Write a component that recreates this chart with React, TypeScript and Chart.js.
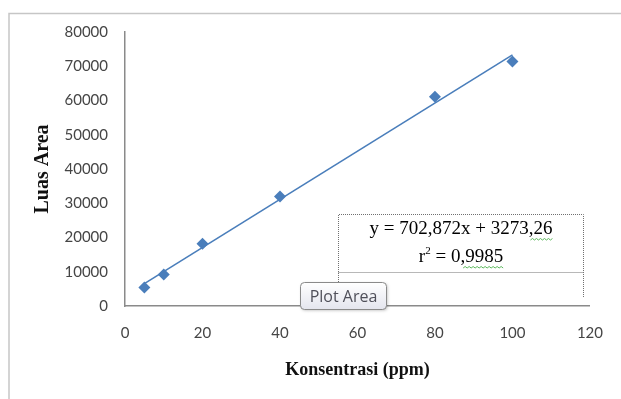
import React, { useEffect, useRef } from "react";
import { Chart, registerables } from "chart.js";

Chart.register(...registerables);

const concentrations = [5, 10, 20, 40, 80, 100];
const areas = [5400, 9200, 18200, 32000, 61100, 71400];
const xTicks = [0, 20, 40, 60, 80, 100, 120];
const yTicks = [0, 10000, 20000, 30000, 40000, 50000, 60000, 70000, 80000];
const equationText = "y = 702,872x + 3273,26";
const r2Label = "r";
const r2Value = " = 0,9985";
const xTitle = "Konsentrasi (ppm)";
const yTitle = "Luas Area";
const hoverLabel = "Plot Area";

function regression(xs: number[], ys: number[]) {
  const n = xs.length;
  const mx = xs.reduce((a, b) => a + b, 0) / n;
  const my = ys.reduce((a, b) => a + b, 0) / n;
  let sxy = 0, sxx = 0;
  for (let i = 0; i < n; i++) {
    sxy += (xs[i] - mx) * (ys[i] - my);
    sxx += (xs[i] - mx) * (xs[i] - mx);
  }
  const m = sxy / sxx;
  return { m, b: my - m * mx };
}

const BLUE = "#4a7ebb";
const EQ_FONT = "19px 'Liberation Serif'";
const SUP_FONT = "11px 'Liberation Serif'";

function wavy(ctx: CanvasRenderingContext2D, x0: number, x1: number, y: number) {
  ctx.save();
  ctx.strokeStyle = "#5cb85c";
  ctx.lineWidth = 1;
  ctx.beginPath();
  let up = true;
  ctx.moveTo(x0, y);
  for (let x = x0 + 2; x <= x1; x += 2) {
    ctx.lineTo(x, up ? y - 1.5 : y);
    up = !up;
  }
  ctx.stroke();
  ctx.restore();
}

const decorPlugin = {
  id: "decor",
  beforeDraw(chart: any) {
    const ctx = chart.ctx as CanvasRenderingContext2D;
    ctx.save();
    ctx.fillStyle = "#ffffff";
    ctx.fillRect(0, 0, chart.width, chart.height);
    ctx.strokeStyle = "#c6c6c6";
    ctx.lineWidth = 1.5;
    ctx.beginPath();
    ctx.moveTo(621, 13.5);
    ctx.lineTo(9, 13.5);
    ctx.lineTo(9, 399);
    ctx.stroke();
    ctx.restore();
  },
  afterDraw(chart: any) {
    const ctx = chart.ctx as CanvasRenderingContext2D;
    ctx.save();
    // equation box
    const bx0 = 338.5, bx1 = 583.5, by0 = 214.5, by1 = 272.5, byEnd = 298;
    ctx.strokeStyle = "#707070";
    ctx.lineWidth = 1;
    ctx.setLineDash([1, 1]);
    ctx.beginPath();
    ctx.moveTo(bx0, byEnd);
    ctx.lineTo(bx0, by0);
    ctx.lineTo(bx1, by0);
    ctx.lineTo(bx1, byEnd);
    ctx.moveTo(bx0, by1);
    ctx.lineTo(bx1, by1);
    ctx.stroke();
    ctx.setLineDash([]);
    ctx.fillStyle = "#000000";
    ctx.font = EQ_FONT;
    ctx.textAlign = "center";
    ctx.textBaseline = "middle";
    const cx = (bx0 + bx1) / 2;
    ctx.fillText(equationText, cx, 229);
    const eqW = ctx.measureText(equationText).width;
    const w26 = ctx.measureText("26").width;
    wavy(ctx, cx + eqW / 2 - w26 - 3, cx + eqW / 2 + 1, 240);
    // r^2 line
    const wr = ctx.measureText(r2Label).width;
    ctx.font = SUP_FONT;
    const w2 = ctx.measureText("2").width;
    ctx.font = EQ_FONT;
    const wv = ctx.measureText(r2Value).width;
    const total = wr + w2 + wv;
    const sx = cx - total / 2;
    ctx.textAlign = "left";
    ctx.fillText(r2Label, sx, 257);
    ctx.font = SUP_FONT;
    ctx.fillText("2", sx + wr, 251);
    ctx.font = EQ_FONT;
    ctx.fillText(r2Value, sx + wr + w2, 257);
    const w9985 = ctx.measureText("9985").width;
    wavy(ctx, sx + total - w9985 - 2, sx + total + 1, 268);

    // "Plot Area" hover label
    const tx = 300.5, ty = 282.5, tw = 86, th = 27, r = 4;
    ctx.shadowColor = "rgba(0,0,0,0.25)";
    ctx.shadowBlur = 3;
    ctx.shadowOffsetX = 1;
    ctx.shadowOffsetY = 1;
    const g = ctx.createLinearGradient(0, ty, 0, ty + th);
    g.addColorStop(0, "#ffffff");
    g.addColorStop(1, "#e4e5ee");
    ctx.fillStyle = g;
    ctx.beginPath();
    ctx.roundRect(tx, ty, tw, th, r);
    ctx.fill();
    ctx.shadowColor = "transparent";
    ctx.strokeStyle = "#8a8a8a";
    ctx.lineWidth = 1;
    ctx.stroke();
    ctx.fillStyle = "#50505a";
    ctx.font = "16px 'Open Sans'";
    ctx.textAlign = "center";
    ctx.textBaseline = "middle";
    ctx.fillText(hoverLabel, tx + tw / 2, ty + th / 2 + 1);
    ctx.restore();
  },
};

export default function App() {
  const ref = useRef<HTMLCanvasElement | null>(null);
  useEffect(() => {
    if (!ref.current) return;
    const { m, b } = regression(concentrations, areas);
    const xMin = Math.min(...concentrations);
    const xMax = Math.max(...concentrations);
    const chart = new Chart(ref.current, {
      type: "scatter",
      data: {
        datasets: [
          {
            type: "line",
            data: [
              { x: xMin, y: m * xMin + b },
              { x: xMax, y: m * xMax + b },
            ],
            borderColor: BLUE,
            borderWidth: 1.6,
            pointRadius: 0,
            fill: false,
          } as any,
          {
            data: concentrations.map((c, i) => ({ x: c, y: areas[i] })),
            pointStyle: "rectRot",
            pointRadius: 6,
            backgroundColor: BLUE,
            borderColor: BLUE,
            borderWidth: 0,
          },
        ],
      },
      options: {
        animation: false,
        responsive: false,
        layout: { padding: { left: 0, right: 29, top: 32, bottom: 0 } },
        plugins: { legend: { display: false }, tooltip: { enabled: false } },
        scales: {
          x: {
            type: "linear",
            min: 0,
            max: 120,
            afterBuildTicks: (s: any) => {
              s.ticks = xTicks.map((v) => ({ value: v }));
            },
            afterFit: (s: any) => {
              s.height = 93;
            },
            grid: { display: false, drawTicks: false },
            border: { display: true, color: "#8a8a8a", width: 1.5 },
            ticks: {
              color: "#454545",
              font: { family: "Lato", size: 15 },
              padding: 18,
              callback: (v: any) => String(v),
            },
            title: {
              display: true,
              text: xTitle,
              color: "#111111",
              font: { family: "Liberation Serif", size: 18, weight: "bold" },
              padding: { top: 0, bottom: 18 },
            },
          },
          y: {
            type: "linear",
            min: 0,
            max: 80000,
            afterBuildTicks: (s: any) => {
              s.ticks = yTicks.map((v) => ({ value: v }));
            },
            afterFit: (s: any) => {
              s.width = 125;
            },
            grid: { display: false, drawTicks: false },
            border: { display: true, color: "#8a8a8a", width: 1.5 },
            ticks: {
              color: "#454545",
              font: { family: "Lato", size: 15 },
              padding: 17,
              callback: (v: any) => String(v),
            },
            title: {
              display: true,
              text: yTitle,
              color: "#111111",
              font: { family: "Liberation Serif", size: 20, weight: "bold" },
              padding: { top: 31, bottom: 0 },
            },
          },
        },
      },
      plugins: [decorPlugin],
    });
    return () => chart.destroy();
  }, []);
  return (
    <div style={{ position: "fixed", left: 0, top: 0, width: 621, height: 399, background: "#fff" }}>
      <canvas ref={ref} width={621} height={399} style={{ width: 621, height: 399, display: "block" }} />
    </div>
  );
}
